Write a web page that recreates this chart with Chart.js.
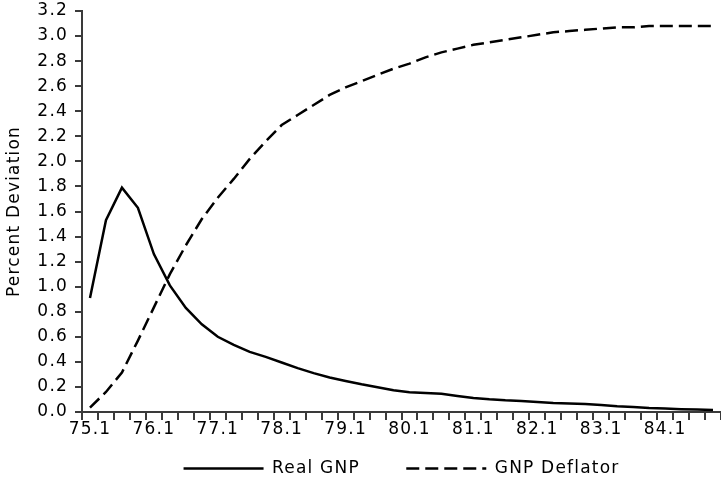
<!DOCTYPE html>
<html>
<head>
<meta charset="utf-8">
<script src="https://cdn.jsdelivr.net/npm/chart.js@4/dist/chart.umd.min.js"></script>
<style>
html,body{margin:0;padding:0;background:#fff;}
#wrap{width:721px;height:484px;}
</style>
</head>
<body>
<div id="wrap"><canvas id="c" width="721" height="484"></canvas></div>
<script>
const quarters = [
 '75.1','75.2','75.3','75.4','76.1','76.2','76.3','76.4','77.1','77.2','77.3','77.4',
 '78.1','78.2','78.3','78.4','79.1','79.2','79.3','79.4','80.1','80.2','80.3','80.4',
 '81.1','81.2','81.3','81.4','82.1','82.2','82.3','82.4','83.1','83.2','83.3','83.4',
 '84.1','84.2','84.3','84.4'
];
const tickLabels = ['75.1','76.1','77.1','78.1','79.1','80.1','81.1','82.1','83.1','84.1'];
const realGNP = [
 0.91,1.53,1.79,1.63,1.26,1.01,0.83,0.70,0.60,0.535,0.48,0.44,
 0.395,0.35,0.31,0.275,0.248,0.221,0.197,0.173,0.157,0.152,0.145,0.128,
 0.112,0.101,0.093,0.088,0.080,0.072,0.067,0.063,0.056,0.046,0.040,0.032,
 0.027,0.022,0.019,0.016
];
const gnpDeflator = [
 0.035,0.16,0.315,0.57,0.835,1.10,1.33,1.54,1.71,1.86,2.02,2.16,
 2.29,2.37,2.45,2.53,2.59,2.64,2.69,2.74,2.78,2.83,2.87,2.90,
 2.93,2.95,2.97,2.99,3.01,3.03,3.04,3.05,3.06,3.07,3.07,3.08,
 3.08,3.08,3.08,3.08
];
const seriesNames = ['Real GNP','GNP Deflator'];
const yTicks = [0,0.2,0.4,0.6,0.8,1.0,1.2,1.4,1.6,1.8,2.0,2.2,2.4,2.6,2.8,3.0,3.2];

const FONT = "'DejaVu Sans', sans-serif";
const FS = 17;
const LS = '1.2px';
const AXIS = '#3a3a3a';

const spacingPlugin = {
  id: 'spacing',
  beforeInit(c){ c.ctx.letterSpacing = LS; },
  beforeUpdate(c){ c.ctx.letterSpacing = LS; },
  beforeLayout(c){ c.ctx.letterSpacing = LS; },
  beforeDraw(c){ c.ctx.letterSpacing = LS; }
};

// tick marks drawn from the library's own scales
function drawTickMarks(c){
  const ctx = c.ctx, xs = c.scales.x, ys = c.scales.y;
  ctx.save();
  ctx.setLineDash([]);
  ctx.strokeStyle = AXIS;
  ctx.lineWidth = 2;
  for (let i = 0; i <= quarters.length; i++) {
    const x = Math.round(xs.getPixelForValue(i - 0.5));
    ctx.beginPath();
    ctx.moveTo(x, xs.top);
    ctx.lineTo(x, xs.top + 8);
    ctx.stroke();
  }
  for (let j = 0; j < yTicks.length; j++) {
    const y = Math.round(ys.getPixelForValue(yTicks[j]));
    ctx.beginPath();
    ctx.moveTo(ys.right - 7, y);
    ctx.lineTo(ys.right, y);
    ctx.stroke();
  }
  ctx.restore();
}
const tickMarks = {
  id: 'tickMarks',
  afterDatasetsDraw(c){ drawTickMarks(c); },
  afterDraw(c){ drawTickMarks(c); }
};

Chart.defaults.font.family = FONT;
Chart.defaults.font.size = FS;
Chart.defaults.color = '#000';

new Chart(document.getElementById('c'), {
  type: 'line',
  data: {
    labels: quarters,
    datasets: [
      { label: seriesNames[0], data: realGNP, borderColor: '#000', backgroundColor: '#000',
        borderWidth: 2.5, pointRadius: 0, tension: 0, fill: false },
      { label: seriesNames[1], data: gnpDeflator, borderColor: '#000', backgroundColor: '#000',
        borderWidth: 2.5, borderDash: [13, 6], pointRadius: 0, tension: 0, fill: false }
    ]
  },
  options: {
    responsive: false,
    animation: false,
    layout: { padding: { left: 3, right: 0, top: 1, bottom: 0 } },
    plugins: {
      legend: {
        position: 'bottom',
        fullSize: false,
        maxHeight: 44,
        labels: {
          usePointStyle: true,
          pointStyle: 'line',
          pointStyleWidth: 80,
          boxHeight: FS,
          padding: 20,
          color: '#000',
          font: { size: FS, family: FONT },
          generateLabels: function(chart){
            return chart.data.datasets.map((ds, i) => ({
              text: i === 0 ? ds.label + '    ' : ds.label,
              fillStyle: ds.borderColor,
              strokeStyle: ds.borderColor,
              lineWidth: ds.borderWidth,
              lineDash: ds.borderDash || [],
              lineCap: 'butt',
              pointStyle: 'line',
              hidden: false,
              datasetIndex: i
            }));
          }
        }
      },
      tooltip: { enabled: false }
    },
    scales: {
      x: {
        type: 'category',
        offset: true,
        grid: { display: true, drawOnChartArea: false, drawTicks: true, offset: true, tickLength: 7,
                color: AXIS, lineWidth: 2 },
        border: { display: true, color: AXIS, width: 2 },
        afterFit: function(s){ s.height = 28; },
        ticks: {
          autoSkip: false, maxRotation: 0, minRotation: 0, padding: 0,
          color: '#000', font: { size: FS, family: FONT },
          callback: function(v, i){ const l = quarters[i]; return tickLabels.includes(l) ? l : ''; }
        }
      },
      y: {
        min: 0, max: 3.2,
        afterBuildTicks: function(axis){ axis.ticks = yTicks.map(v => ({ value: v })); },
        afterFit: function(s){ s.width = 79; s.paddingTop = 11; s.paddingBottom = 11; },
        grid: { display: true, drawOnChartArea: false, drawTicks: true, tickLength: 6,
                color: AXIS, lineWidth: 2 },
        border: { display: true, color: AXIS, width: 2 },
        ticks: { padding: 8, color: '#000', font: { size: FS, family: FONT },
          callback: function(v){ return Number(v).toFixed(1); } },
        title: { display: true, text: 'Percent Deviation', color: '#000', font: { size: FS, family: FONT }, padding: { top: 1, bottom: 10 } }
      }
    }
  },
  plugins: [spacingPlugin, tickMarks]
});
</script>
</body>
</html>
